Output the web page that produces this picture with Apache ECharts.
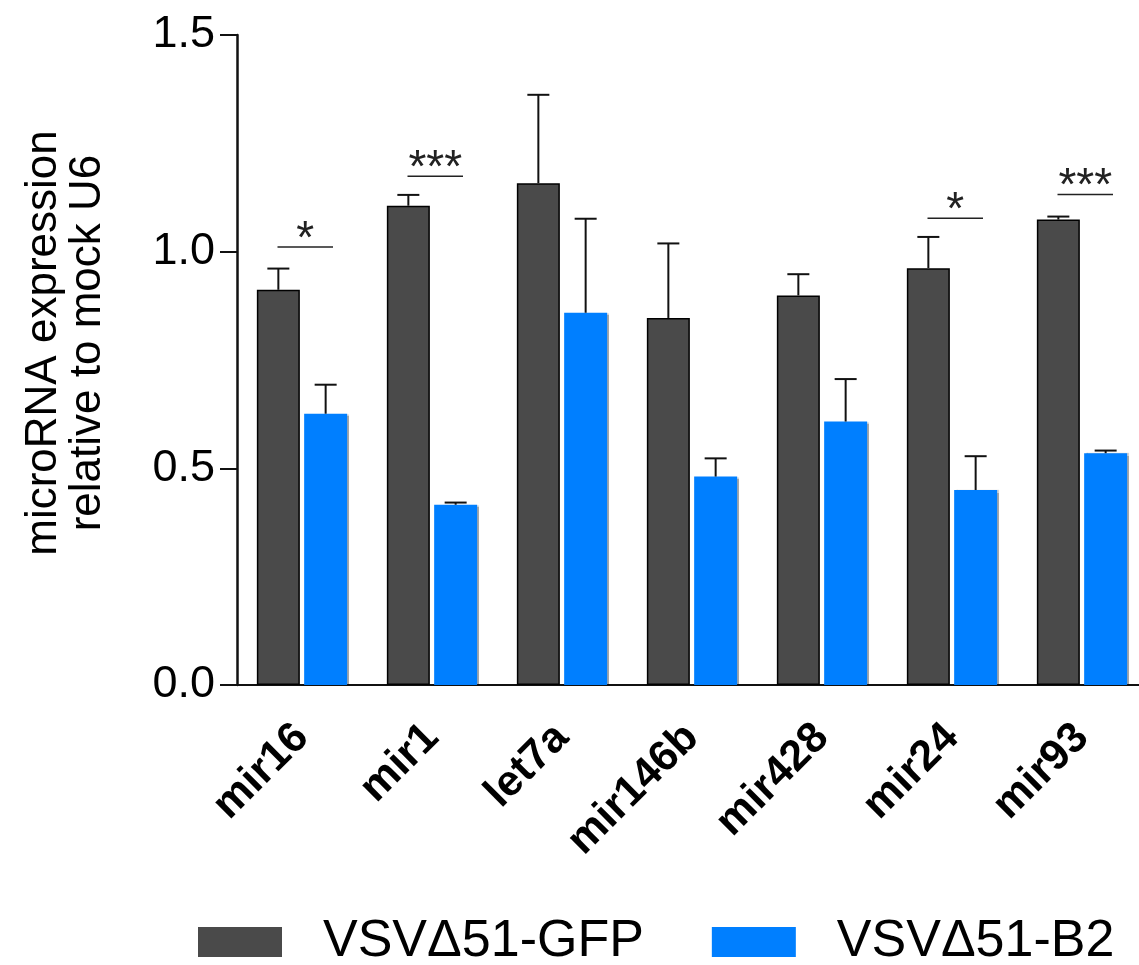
<!DOCTYPE html>
<html>
<head>
<meta charset="utf-8">
<script src="https://cdn.jsdelivr.net/npm/echarts@6/dist/echarts.min.js"></script>
<style>
  html, body { margin: 0; padding: 0; background: #fff; }
  #chart { width: 1139px; height: 965px; }
</style>
</head>
<body>
<div id="chart"></div>
<script>
// ---- data ----
const categories = ['mir16', 'mir1', 'let7a', 'mir146b', 'mir428', 'mir24', 'mir93'];
const gfpMean  = [0.912, 1.106, 1.158, 0.847, 0.899, 0.962, 1.074];
const gfpTop   = [0.961, 1.131, 1.362, 1.019, 0.948, 1.034, 1.081];
const b2Mean   = [0.626, 0.416, 0.859, 0.481, 0.608, 0.450, 0.535];
const b2Top    = [0.693, 0.421, 1.076, 0.523, 0.706, 0.528, 0.541];
const yTicks   = [0, 0.5, 1.0, 1.5];
const sigCats   = ['mir16', 'mir1', 'mir24', 'mir93'];
const sigLabels = ['*', '***', '*', '***'];
const sigLevel  = [1.011, 1.174, 1.077, 1.132];
const seriesNames = ['VSV\u039451-GFP', 'VSV\u039451-B2'];

// ---- style constants ----
const GRAY = '#4a4a4a';
const BLUE = '#007fff';
const BAR_W = 43;
const BAR_OFF = 23.65;
const FONT = "'Liberation Sans', Arial, sans-serif";

const chart = echarts.init(document.getElementById('chart'));

function errItems(tops, means, side) {
  return categories.map((c, i) => [i, means[i], tops[i], side]);
}

function renderErr(params, api) {
  const side = api.value(3);
  const base = api.coord([api.value(0), api.value(1)]);
  const top = api.coord([api.value(0), api.value(2)]);
  const x = base[0] + side * BAR_OFF;
  const st = { stroke: '#111', lineWidth: 2 };
  return {
    type: 'group',
    children: [
      { type: 'line', shape: { x1: x, y1: base[1], x2: x, y2: top[1] }, style: st },
      { type: 'line', shape: { x1: x - 11, y1: top[1], x2: x + 11, y2: top[1] }, style: st }
    ]
  };
}

function renderSig(params, api) {
  const idx = api.value(0);
  const p = api.coord([idx, api.value(1)]);
  const x1 = p[0] - 24.5, x2 = p[0] + 31;
  const cx = (x1 + x2) / 2;
  return {
    type: 'group',
    children: [
      { type: 'line', shape: { x1: x1, y1: p[1], x2: x2, y2: p[1] }, style: { stroke: '#222', lineWidth: 1.5 } },
      { type: 'text', x: cx, y: p[1] - 7, style: {
          text: sigLabels[params.dataIndex], fill: '#222', fontSize: 46, fontFamily: FONT,
          align: 'center', verticalAlign: 'middle' } }
    ]
  };
}

const option = {
  backgroundColor: '#fff',
  animation: false,
  grid: { left: 237, top: 35, width: 910, height: 650, containLabel: false, outerBoundsMode: 'none' },
  legend: {
    data: seriesNames,
    left: 193,
    top: 911,
    itemWidth: 84,
    itemHeight: 30,
    itemGap: 68,
    icon: 'rect',
    itemStyle: { borderWidth: 0, shadowBlur: 0, shadowOffsetX: 0, shadowColor: 'transparent' },
    textStyle: { fontSize: 52, fontFamily: FONT, color: '#000', padding: [0, 0, 0, 36] }
  },
  xAxis: {
    type: 'category',
    data: categories,
    boundaryGap: true,
    axisLine: { lineStyle: { color: '#111', width: 2 } },
    axisTick: { alignWithLabel: true, length: 16, lineStyle: { color: '#111', width: 2 } },
    axisLabel: {
      interval: 0, rotate: 45, margin: 46,
      fontSize: 43, fontWeight: 'bold', fontFamily: FONT, color: '#000'
    },
    splitLine: { show: false }
  },
  yAxis: {
    type: 'value',
    min: 0, max: 1.5, interval: 0.5,
    name: 'microRNA expression\nrelative to mock U6',
    nameLocation: 'middle',
    nameGap: 127,
    nameRotate: 90,
    nameTextStyle: { fontSize: 44, fontFamily: FONT, color: '#000', lineHeight: 44, padding: [0, 0, 0, 34] },
    axisLine: { show: true, lineStyle: { color: '#111', width: 2.5 } },
    axisTick: { show: true, length: 17, lineStyle: { color: '#111', width: 2 } },
    axisLabel: {
      margin: 22, fontSize: 45, fontFamily: FONT, color: '#000',
      formatter: v => (yTicks.includes(v) ? v.toFixed(1) : '')
    },
    splitLine: { show: false }
  },
  series: [
    {
      name: seriesNames[0], type: 'bar', data: gfpMean, barWidth: BAR_W, barGap: '10%',
      itemStyle: { color: GRAY, borderColor: '#000', borderWidth: 1.5 }
    },
    {
      name: seriesNames[1], type: 'bar', data: b2Mean, barWidth: BAR_W,
      itemStyle: { color: BLUE, shadowColor: 'rgba(0,0,0,0.35)', shadowOffsetX: 2, shadowBlur: 1 }
    },
    {
      type: 'custom', renderItem: renderErr, z: 5,
      data: errItems(gfpTop, gfpMean, -1).concat(errItems(b2Top, b2Mean, 1)),
      encode: { x: 0, y: [1, 2] }, silent: true
    },
    {
      type: 'custom', renderItem: renderSig, z: 6,
      data: sigCats.map((c, i) => [categories.indexOf(c), sigLevel[i]]),
      encode: { x: 0, y: 1 }, silent: true
    }
  ]
};
chart.setOption(option);
</script>
</body>
</html>
